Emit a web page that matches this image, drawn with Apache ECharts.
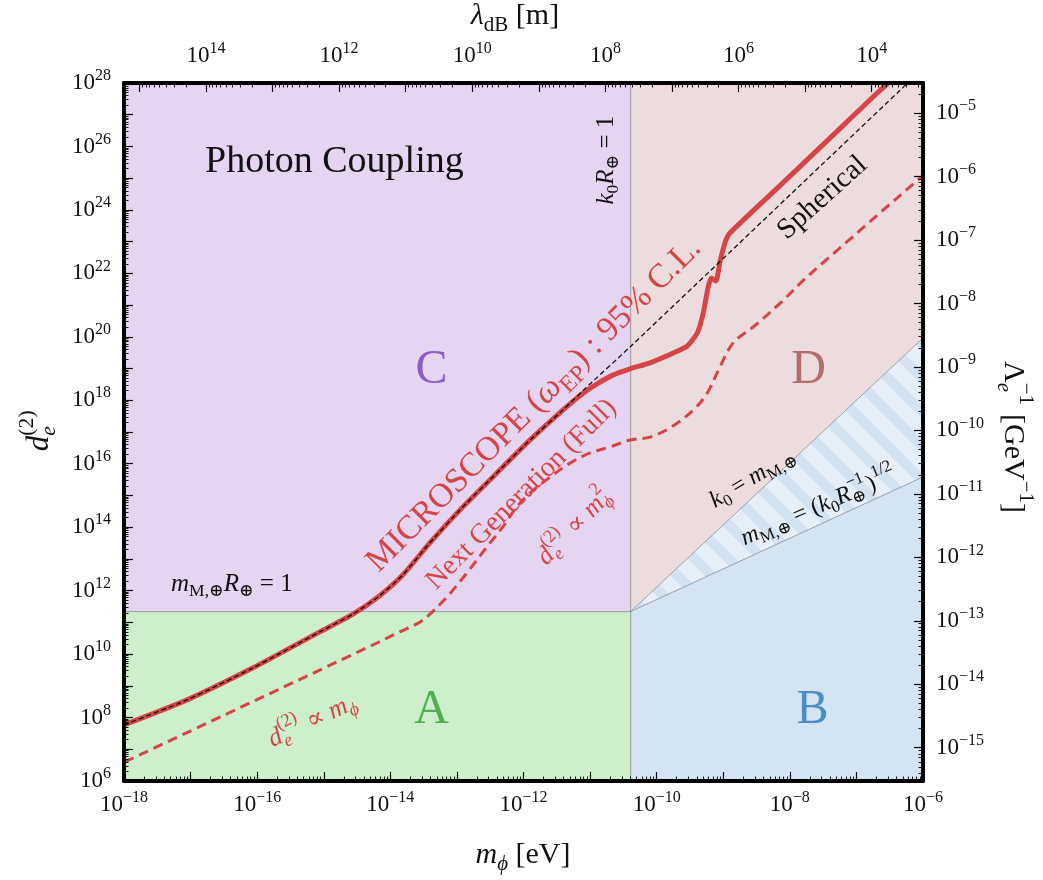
<!DOCTYPE html>
<html>
<head>
<meta charset="utf-8">
<script src="https://cdn.jsdelivr.net/npm/echarts@6/dist/echarts.min.js"></script>
<style>
  html, body { margin: 0; padding: 0; background: #ffffff; }
  #chart { width: 1043px; height: 880px; }
</style>
</head>
<body>
<div id="chart"></div>
<script>
// ---- axis ranges, all in log10 units ----
const massLogMin = -18, massLogMax = -6;          // m_phi [eV]
const couplingLogMin = 6, couplingLogMax = 28;    // d_e^(2)
const massTickLabels = [-18, -16, -14, -12, -10, -8, -6];
const couplingTickLabels = [6, 8, 10, 12, 14, 16, 18, 20, 22, 24, 26, 28];
// de Broglie wavelength: log10(lambda/m) = lambdaOffset - log10(m/eV)
const lambdaOffset = -2.77;
const lambdaTickLabels = [4, 6, 8, 10, 12, 14];
// suppression scale: log10(Lambda^-1/GeV^-1) = log10(d)/2 + cutoffOffset
const cutoffOffset = -18.525;
const cutoffTickLabels = [-15, -14, -13, -12, -11, -10, -9, -8, -7, -6, -5];

// ---- MICROSCOPE (omega_EP) 95% C.L. limit ----
const microscopeLogM = [-18.0, -17.06, -16.07, -15.06, -14.56, -14.16, -13.81, -13.41, -12.91, -12.40,
  -11.90, -11.41, -11.10, -10.90, -10.65, -10.40, -10.10, -9.75, -9.54, -9.39, -9.30, -9.23, -9.18,
  -9.11, -9.05, -8.97, -8.90, -8.14, -7.39, -6.64, -6.52];
const microscopeLogD = [7.77, 8.55, 9.56, 10.70, 11.26, 11.84, 12.50, 13.50, 14.64, 15.71,
  16.75, 17.69, 18.23, 18.51, 18.80, 18.99, 19.18, 19.49, 19.71, 20.12, 20.75, 21.54, 21.85,
  21.76, 22.36, 22.99, 23.27, 24.78, 26.28, 27.78, 28.0];

// ---- spherical approximation ----
const sphericalLogM = [-18.0, -17.06, -16.07, -15.06, -14.56, -14.16, -13.81, -13.41, -12.91, -12.40,
  -11.90, -11.41, -11.10, -10.40, -6.34, -6.23];
const sphericalLogD = [7.77, 8.55, 9.56, 10.70, 11.26, 11.84, 12.50, 13.50, 14.64, 15.71,
  16.75, 17.69, 18.32, 19.68, 27.78, 28.0];

// ---- next generation (full) projection ----
const nextGenLogM = [-17.99, -14.20, -13.86, -13.56, -13.41, -13.15, -12.85, -12.55, -12.31, -12.10, -11.90, -11.60,
  -11.30, -11.00, -10.70, -10.40, -10.10, -9.80, -9.45, -9.24, -9.05, -8.85, -8.55, -8.14, -7.74, -5.99];
const nextGenLogD = [6.60, 10.35, 10.70, 11.00, 11.25, 11.80, 12.56, 13.38, 14.01, 14.64, 15.08, 15.58,
  16.02, 16.34, 16.53, 16.75, 16.84, 17.13, 17.69, 18.23, 19.05, 19.81, 20.31, 21.07, 21.89, 25.10];

// ---- region boundaries ----
const kRLogM = -10.39;            // k0 R = 1
const mRLogD = 11.34;             // m_M R = 1
const k0EqualsMEdgeLogD = 19.96;  // k0 = m_M at the right edge
const geoMeanEdgeLogD = 15.58;    // m_M = (k0/R)^(1/2) at the right edge

const FONT = '"Liberation Serif", "DejaVu Serif", serif';
const RED = '#d64545';

function ints(lo, hi) { const o = []; for (let n = Math.ceil(lo); n <= Math.floor(hi); n++) o.push(n); return o; }
function logMinors(lo, hi) {
  const o = [];
  for (let n = Math.floor(lo) - 1; n <= Math.ceil(hi); n++)
    for (let k = 2; k <= 9; k++) { const v = n + Math.log10(k); if (v > lo + 1e-6 && v < hi - 1e-6) o.push(v); }
  return o;
}
const zip = (a, b) => a.map((v, i) => [v, b[i]]);
const powLabel = v => { const n = Math.round(v); return '{b|10}{s|' + (n < 0 ? '\u2212' + (-n) : n) + '}'; };
const rich = {
  b: { fontSize: 23, fontFamily: FONT, color: '#111', lineHeight: 30, verticalAlign: 'middle' },
  s: { fontSize: 16, fontFamily: FONT, color: '#111', lineHeight: 14, verticalAlign: 'top' }
};

function majorAxis(pos, min, max, tickVals, labelVals, margin, inverse) {
  return {
    type: 'value', position: pos, min, max, inverse: !!inverse, z: 10,
    splitLine: { show: false },
    axisLine: { show: true, onZero: false, lineStyle: { color: '#000', width: 4 } },
    axisTick: { show: true, inside: true, length: 9, customValues: tickVals, lineStyle: { color: '#000', width: 1.2 } },
    axisLabel: { show: true, inside: false, margin, customValues: labelVals, formatter: powLabel, rich }
  };
}
function minorAxis(pos, min, max, inverse) {
  return {
    type: 'value', position: pos, min, max, inverse: !!inverse, z: 10,
    splitLine: { show: false }, axisLine: { show: false }, axisLabel: { show: false },
    axisTick: { show: true, inside: true, length: 4.5, customValues: logMinors(min, max), lineStyle: { color: '#000', width: 0.9 } }
  };
}

const lamMin = lambdaOffset - massLogMax, lamMax = lambdaOffset - massLogMin;
const cutMin = couplingLogMin / 2 + cutoffOffset, cutMax = couplingLogMax / 2 + cutoffOffset;

// hatched strip between the two diagonal boundaries
function stripePattern() {
  const s = 34, c = document.createElement('canvas');
  c.width = s; c.height = s;
  const g = c.getContext('2d');
  g.fillStyle = '#e6eff8'; g.fillRect(0, 0, s, s);
  g.strokeStyle = '#d2e2f1'; g.lineWidth = 10;
  for (const off of [-s, 0, s]) { g.beginPath(); g.moveTo(off - s, -s); g.lineTo(off + 2 * s, 2 * s); g.stroke(); }
  return { image: c, repeat: 'repeat' };
}

const regions = [
  { fill: '#cdefcc', pts: [[massLogMin, couplingLogMin], [kRLogM, couplingLogMin], [kRLogM, mRLogD], [massLogMin, mRLogD]] },
  { fill: '#e5d5f1', pts: [[massLogMin, mRLogD], [kRLogM, mRLogD], [kRLogM, couplingLogMax], [massLogMin, couplingLogMax]] },
  { fill: '#ecdcdd', pts: [[kRLogM, mRLogD], [massLogMax, k0EqualsMEdgeLogD], [massLogMax, couplingLogMax], [kRLogM, couplingLogMax]] },
  { fill: stripePattern(), pts: [[kRLogM, mRLogD], [massLogMax, k0EqualsMEdgeLogD], [massLogMax, geoMeanEdgeLogD]] },
  { fill: '#d4e4f2', pts: [[kRLogM, couplingLogMin], [massLogMax, couplingLogMin], [massLogMax, geoMeanEdgeLogD], [kRLogM, mRLogD]] }
];

// ---- math-style text: sequential tokens with sub/superscripts ----
const mctx = document.createElement('canvas').getContext('2d');
const fontStr = (size, it) => (it ? 'italic ' : '') + size + 'px ' + FONT;
function measure(t, size, it) { mctx.font = fontStr(size, it); return mctx.measureText(t).width; }
function mathChildren(tokens, size, color) {
  const items = []; let x = 0;
  const put = (t, s, it, dy, xx) => { items.push({ t, s, it, dy, x: xx }); return measure(t, s, it); };
  const ss = size * 0.7, up = -0.42 * size, down = 0.3 * size;
  tokens.forEach(tk => {
    if (tk.stack) {
      const w1 = put(tk.stack[0], ss, tk.supIt, up, x);
      const w2 = put(tk.stack[1], ss, tk.subIt, down, x);
      x += Math.max(w1, w2) + size * 0.05;
    } else if (tk.sup) x += put(tk.t, ss, tk.it, up, x);
    else if (tk.sub) x += put(tk.t, ss, tk.it, down, x);
    else x += put(tk.t, size, tk.it, 0, x);
  });
  return items.map(o => ({
    type: 'text', x: o.x - x / 2, y: o.dy,
    style: { text: o.t, font: fontStr(o.s, o.it), fill: color, align: 'left', verticalAlign: 'middle' }
  }));
}

const DEG = Math.PI / 180;
// annotations anchored in data space (log10 m, log10 d)
const annotations = [
  { at: [-14.84, 25.51], size: 38, color: '#111', rot: 0, tokens: [{ t: 'Photon Coupling' }] },
  { at: [-13.38, 18.95], size: 48, color: '#8d5cc7', rot: 0, tokens: [{ t: 'C' }] },
  { at: [-7.72, 18.95], size: 48, color: '#b56c6c', rot: 0, tokens: [{ t: 'D' }] },
  { at: [-13.38, 8.24], size: 48, color: '#4fb04f', rot: 0, tokens: [{ t: 'A' }] },
  { at: [-7.66, 8.24], size: 48, color: '#4b8dc6', rot: 0, tokens: [{ t: 'B' }] },
  { at: [-10.76, 25.57], size: 25, color: '#111', rot: 90,
    tokens: [{ t: 'k', it: 1 }, { t: '0', sub: 1 }, { t: 'R', it: 1 }, { t: '\u2295', sub: 1 }, { t: ' = 1' }] },
  { at: [-16.38, 12.21], size: 25, color: '#111', rot: 0,
    tokens: [{ t: 'm', it: 1 }, { t: 'M,\u2295', sub: 1 }, { t: 'R', it: 1 }, { t: '\u2295', sub: 1 }, { t: ' = 1' }] },
  { at: [-11.84, 17.85], size: 34, color: RED, rot: 45,
    tokens: [{ t: 'MICROSCOPE (' }, { t: '\u03c9', it: 1 }, { t: 'EP', sub: 1 }, { t: ') : 95% C.L.' }] },
  { at: [-12.03, 15.03], size: 28, color: RED, rot: 45, tokens: [{ t: 'Next Generation (Full)' }] },
  { at: [-11.23, 14.01], size: 26, color: RED, rot: 46,
    tokens: [{ t: 'd', it: 1 }, { stack: ['(2)', 'e'], subIt: 1 }, { t: ' \u221d ' }, { t: 'm', it: 1 }, { stack: ['2', '\u03d5'], subIt: 1 }] },
  { at: [-15.17, 7.89], size: 26, color: RED, rot: 25,
    tokens: [{ t: 'd', it: 1 }, { stack: ['(2)', 'e'], subIt: 1 }, { t: ' \u221d ' }, { t: 'm', it: 1 }, { t: '\u03d5', sub: 1, it: 1 }] },
  { at: [-7.51, 24.38], size: 29, color: '#111', rot: 42, tokens: [{ t: 'Spherical' }] },
  { at: [-8.56, 15.55], size: 24, color: '#111', rot: 31,
    tokens: [{ t: 'k', it: 1 }, { t: '0', sub: 1 }, { t: ' = ' }, { t: 'm', it: 1 }, { t: 'M,\u2295', sub: 1 }] },
  { at: [-7.57, 14.64], size: 24, color: '#111', rot: 23,
    tokens: [{ t: 'm', it: 1 }, { t: 'M,\u2295', sub: 1 }, { t: ' = (' }, { t: 'k', it: 1 }, { t: '0', sub: 1 }, { t: 'R', it: 1 },
      { stack: ['\u22121', '\u2295'] }, { t: ')' }, { t: '1/2', sup: 1 }] }
];

const chart = echarts.init(document.getElementById('chart'), null, { renderer: 'canvas' });
chart.setOption({
  animation: false,
  backgroundColor: '#ffffff',
  grid: { left: 124, top: 83, width: 799, height: 698, containLabel: false },
  xAxis: [
    majorAxis('bottom', massLogMin, massLogMax, ints(massLogMin, massLogMax), massTickLabels, 9),
    minorAxis('bottom', massLogMin, massLogMax),
    majorAxis('top', lamMin, lamMax, ints(lamMin, lamMax), lambdaTickLabels, 12, true),
    minorAxis('top', lamMin, lamMax, true)
  ],
  yAxis: [
    majorAxis('left', couplingLogMin, couplingLogMax, ints(couplingLogMin, couplingLogMax), couplingTickLabels, 13),
    minorAxis('left', couplingLogMin, couplingLogMax),
    majorAxis('right', cutMin, cutMax, ints(cutMin, cutMax), cutoffTickLabels, 13),
    minorAxis('right', cutMin, cutMax)
  ],
  series: [
    {
      type: 'custom', name: 'regions', xAxisIndex: 0, yAxisIndex: 0, silent: true, z: 1, clip: true,
      data: regions.map((r, i) => [-12, 17, i]),
      renderItem: (params, api) => {
        const r = regions[params.dataIndex];
        return {
          type: 'polygon',
          shape: { points: r.pts.map(p => api.coord(p)) },
          style: { fill: r.fill, stroke: 'rgba(80,80,80,0.35)', lineWidth: 1 }
        };
      }
    },
    {
      type: 'line', name: 'Next Generation (Full)', xAxisIndex: 0, yAxisIndex: 0, z: 3,
      data: zip(nextGenLogM, nextGenLogD), showSymbol: false, smooth: 0.35,
      lineStyle: { color: RED, width: 3, type: [10, 6] }
    },
    {
      type: 'line', name: 'MICROSCOPE', xAxisIndex: 0, yAxisIndex: 0, z: 4,
      data: zip(microscopeLogM, microscopeLogD), showSymbol: false, smooth: 0.2,
      lineStyle: { color: RED, width: 5 }
    },
    {
      type: 'line', name: 'Spherical', xAxisIndex: 0, yAxisIndex: 0, z: 5,
      data: zip(sphericalLogM, sphericalLogD), showSymbol: false, smooth: 0.2,
      lineStyle: { color: '#111', width: 1.3, type: [5, 3] }
    },
    {
      type: 'custom', name: 'annotations', xAxisIndex: 0, yAxisIndex: 0, silent: true, z: 20, clip: false,
      data: annotations.map(a => a.at),
      renderItem: (params, api) => {
        const a = annotations[params.dataIndex];
        const p = api.coord([api.value(0), api.value(1)]);
        return {
          type: 'group', x: p[0], y: p[1], rotation: a.rot * DEG,
          children: mathChildren(a.tokens, a.size, a.color)
        };
      }
    }
  ],
  graphic: [
    { type: 'group', x: 523, y: 855, z: 100,
      children: mathChildren([{ t: 'm', it: 1 }, { t: '\u03d5', sub: 1, it: 1 }, { t: ' [eV]' }], 30, '#111') },
    { type: 'group', x: 515, y: 16, z: 100,
      children: mathChildren([{ t: '\u03bb', it: 1 }, { t: 'dB', sub: 1 }, { t: ' [m]' }], 30, '#111') },
    { type: 'group', x: 40, y: 430, rotation: 90 * DEG, z: 100,
      children: mathChildren([{ t: 'd', it: 1 }, { stack: ['(2)', 'e'], subIt: 1 }], 31, '#111') },
    { type: 'group', x: 1013, y: 437, rotation: -90 * DEG, z: 100,
      children: mathChildren([{ t: '\u039b' }, { stack: ['\u22121', 'e'], subIt: 1 }, { t: ' [GeV' }, { t: '\u22121', sup: 1 }, { t: ']' }], 30, '#111') }
  ]
});
</script>
</body>
</html>
